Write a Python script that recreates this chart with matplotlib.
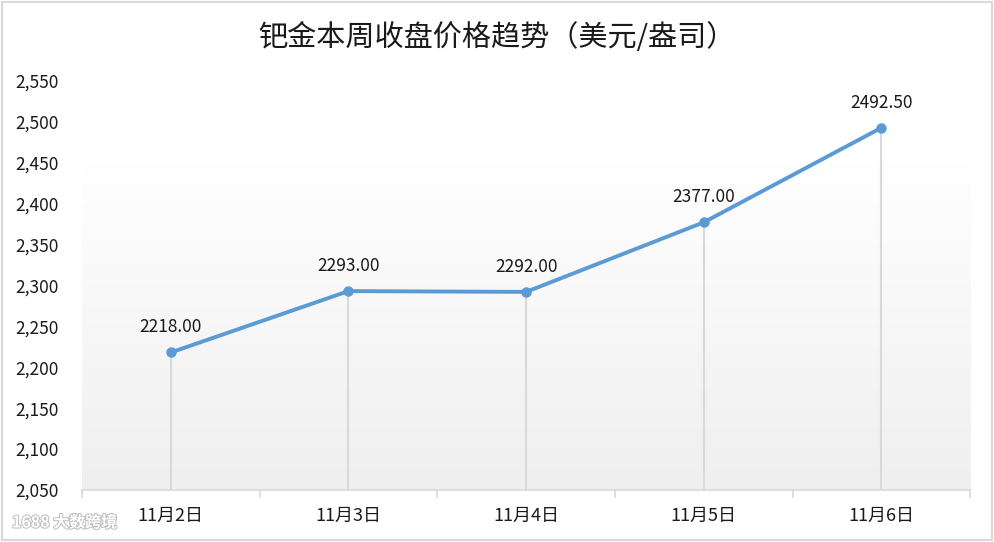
import numpy as np
import matplotlib.pyplot as plt
import matplotlib.patheffects as pe
from matplotlib.colors import LinearSegmentedColormap
from matplotlib.ticker import FuncFormatter, FixedLocator

plt.rcParams['font.family'] = ['Noto Sans CJK SC', 'DejaVu Sans']

days = ["11月2日", "11月3日", "11月4日", "11月5日", "11月6日"]
prices = [2218.00, 2293.00, 2292.00, 2377.00, 2492.50]
labels = ["2218.00", "2293.00", "2292.00", "2377.00", "2492.50"]

fig = plt.figure(figsize=(9.94, 5.42), dpi=100)
ax = fig.add_axes([0.0825, 0.096, 0.8935, 0.755])

x = np.arange(len(days))
ax.set_xlim(-0.5, len(days) - 0.5)
ax.set_ylim(2050, 2550)

# soft gradient background: light grey at bottom -> white near top
bg = LinearSegmentedColormap.from_list('bg', [(0, '#efefef'), (0.8, '#ffffff'), (1, '#ffffff')])
grad = np.linspace(0, 1, 256).reshape(-1, 1)
ax.imshow(grad, aspect='auto', cmap=bg, vmin=0, vmax=1,
          extent=[-0.5, len(days) - 0.5, 2050, 2550], origin='lower', zorder=0)

# drop lines
ax.vlines(x, 2050, prices, color='#d9d9d9', lw=1.5, zorder=1)

ax.plot(x, prices, color='#5b9bd5', lw=2.8, marker='o', ms=6.5, zorder=3)

for xi, p, t in zip(x, prices, labels):
    ax.annotate(t, (xi, p), xytext=(0, 18), textcoords='offset points',
                ha='center', va='center', fontsize=12.5, color='#1a1a1a')

ax.set_xticks(x)
ax.set_xticklabels(days, fontsize=13)
ax.xaxis.set_minor_locator(FixedLocator(np.arange(-0.5, len(days), 1)))
ax.tick_params(axis='x', which='major', length=0, pad=12, colors='#1a1a1a')
ax.tick_params(axis='x', which='minor', length=6, color='#d9d9d9', width=1.2)

ax.set_yticks(np.arange(2050, 2551, 50))
ax.yaxis.set_major_formatter(FuncFormatter(lambda v, _: f"{int(v):,}"))
ax.tick_params(axis='y', length=0, pad=17, labelsize=12.5, colors='#1a1a1a')

for s in ['top', 'right', 'left']:
    ax.spines[s].set_visible(False)
ax.spines['bottom'].set_color('#d9d9d9')
ax.spines['bottom'].set_linewidth(1.2)

fig.text(0.5, 0.93, "钯金本周收盘价格趋势（美元/盎司）", ha='center', va='center',
         fontsize=21, color='#1a1a1a')

# watermark
fig.text(0.012, 0.036, "1688 大数跨境", fontsize=11.5, color='white', ha='left', va='center',
         fontweight='bold', path_effects=[pe.withStroke(linewidth=1.5, foreground='#c0c0c0')])

# outer frame
fig.patches.append(plt.Rectangle((0.002, 0.003), 0.996, 0.994, transform=fig.transFigure,
                                 fill=False, edgecolor='#d9d9d9', lw=1.5))

fig.savefig("out.png", dpi=100)
